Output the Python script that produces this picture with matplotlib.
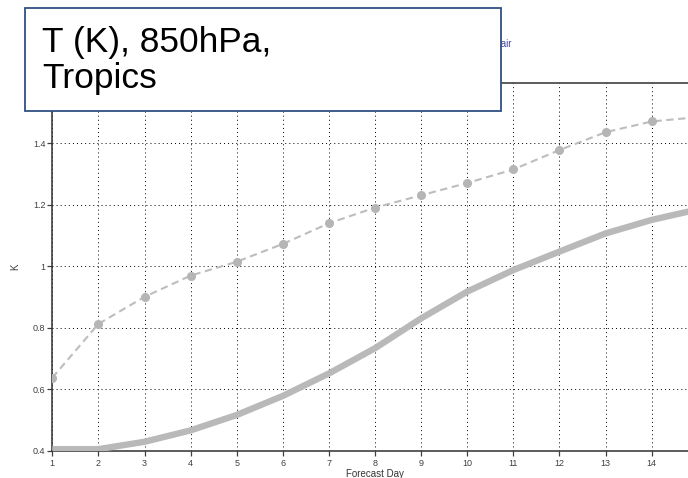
import matplotlib
matplotlib.use("Agg")
import matplotlib.pyplot as plt
from matplotlib.patches import Rectangle

days = [1, 2, 3, 4, 5, 6, 7, 8, 9, 10, 11, 12, 13, 14, 15]
dashed_vals = [0.638, 0.813, 0.901, 0.970, 1.015, 1.073, 1.140, 1.191, 1.231,
               1.271, 1.315, 1.378, 1.436, 1.471, 1.485]
solid_vals = [0.406, 0.406, 0.430, 0.467, 0.517, 0.579, 0.652, 0.734, 0.831,
              0.918, 0.988, 1.048, 1.107, 1.151, 1.185]
yticks = [0.4, 0.6, 0.8, 1.0, 1.2, 1.4]
yticklabels = ["0.4", "0.6", "0.8", "1", "1.2", "1.4"]
xticks = list(range(1, 15))

W, H = 688, 478
fig = plt.figure(figsize=(W / 100, H / 100), dpi=100)
plt.rcParams['font.family'] = ['Liberation Sans', 'DejaVu Sans']

x0, x1 = 52.3, 697.7
ytop, ybot = 82.7, 451.0
ax = fig.add_axes([x0 / W, 1 - ybot / H, (x1 - x0) / W, (ybot - ytop) / H])

ax.plot(days, solid_vals, color='#b9b9b9', lw=4.6, solid_capstyle='butt', zorder=3)
ax.plot(days, dashed_vals, color='#bdbdbd', lw=1.5, dashes=(3.5, 2.2),
        marker='o', ms=5.5, mfc='#b5b5b5', mec='#b5b5b5', zorder=3)

ax.set_xlim(1, 15)
ax.set_ylim(0.4, 1.597)
ax.set_xticks(xticks)
ax.set_xticklabels([str(d) for d in xticks])
ax.set_yticks(yticks)
ax.set_yticklabels(yticklabels)
ax.grid(True, color='black', lw=0.7, linestyle=(0, (1, 3.2)))
ax.axvline(15, color='black', lw=0.7, linestyle=(0, (1, 3.2)))
ax.tick_params(axis='both', labelsize=6.5, colors='#404040', length=3.5,
               width=0.9, pad=1.5)
ax.tick_params(axis='x', pad=2)
for s in ['left', 'bottom', 'top']:
    ax.spines[s].set_color('#303030')
    ax.spines[s].set_linewidth(1.1)
ax.spines['right'].set_visible(False)
ax.set_xlabel('Forecast Day', fontsize=7, color='#333333', labelpad=1)
ax.set_ylabel('K', fontsize=7, color='#404040', labelpad=9)

# partially hidden header text behind the box
fig.text(511 / W, 1 - 43 / H, 'Forecast error, fair', fontsize=7,
         color='#44449a', ha='right', va='center', zorder=1)

bx0, by0, bx1, by1 = 25, 8.3, 501, 110.5
rect = Rectangle((bx0 / W, 1 - by1 / H), (bx1 - bx0) / W, (by1 - by0) / H,
                 transform=fig.transFigure, facecolor='white',
                 edgecolor='#2f5080', lw=1.3, zorder=10)
fig.patches.append(rect)
fig.text(42 / W, 1 - 52.3 / H, 'T (K), 850hPa,', fontsize=25.5, color='black',
         ha='left', va='baseline', zorder=11)
fig.text(42 / W, 1 - 88 / H, 'Tropics', fontsize=25.5, color='black',
         ha='left', va='baseline', zorder=11)

fig.savefig('out.png', dpi=100)
